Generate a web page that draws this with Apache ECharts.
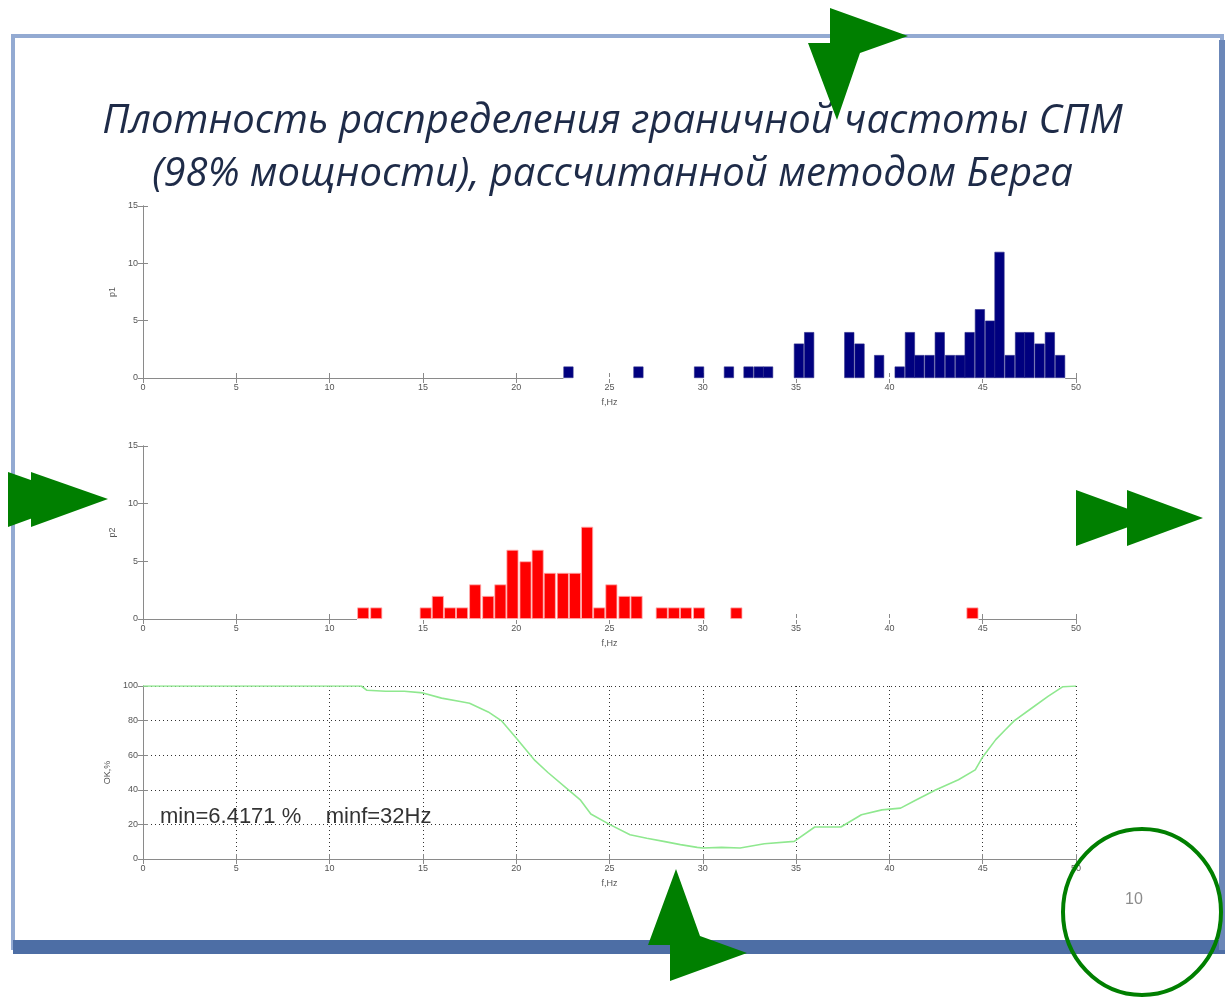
<!DOCTYPE html>
<html>
<head>
<meta charset="utf-8">
<script src="https://cdn.jsdelivr.net/npm/echarts@6/dist/echarts.min.js"></script>
<style>
  html, body { margin: 0; padding: 0; background: #fff; }
  #chart { width: 1225px; height: 999px; }
</style>
</head>
<body>
<div id="chart"></div>
<script>
// p1: центры интервалов (Гц) и число попаданий
const freqP1 = [22.8, 26.55, 29.8, 31.4, 32.45, 33.0, 33.5, 35.15, 35.7, 37.85, 38.4, 39.45, 40.55,
  41.1, 41.6, 42.15, 42.7, 43.25, 43.8, 44.3, 44.85, 45.4, 45.9, 46.45, 47.0, 47.5, 48.05, 48.6, 49.15]
const countP1 = [1, 1, 1, 1, 1, 1, 1, 3, 4, 4, 3, 2, 1,
  4, 2, 2, 4, 2, 2, 4, 6, 5, 11, 2, 4, 4, 3, 4, 2]
const binP1 = 0.537

// p2
const freqP2 = [11.8, 12.5, 15.15, 15.8, 16.45, 17.1, 17.8, 18.5, 19.15, 19.8, 20.5, 21.15, 21.8,
  22.5, 23.15, 23.8, 24.45, 25.1, 25.8, 26.45, 27.8, 28.45, 29.1, 29.8, 31.8, 44.45]
const countP2 = [1, 1, 1, 2, 1, 1, 3, 2, 3, 6, 5, 6, 4,
  4, 4, 8, 1, 3, 2, 2, 1, 1, 1, 1, 1, 1]
const binP2 = 0.665

// ОК, %
const freqOK = [0, 11.7, 12, 13, 14, 15, 16, 17, 17.5, 18.5, 19.2, 20, 21, 21.7, 22.8, 23.45, 24, 25,
  26.1, 27, 27.9, 28.8, 29.7, 30, 31, 32, 33.3, 34.9, 36, 37.4, 38.5, 39.6, 40.6, 41.4, 42.5,
  43.7, 44.6, 45, 45.7, 46.2, 46.7, 47.6, 48.5, 49.3, 50]
const valueOK = [100, 100, 97.5, 97, 97, 96, 93, 91, 90, 85, 80, 70, 57, 50, 40, 34, 26, 20,
  14, 12, 10.2, 8.3, 6.7, 6.4, 6.7, 6.4, 8.8, 10.2, 18.5, 18.5, 25.6, 28.4, 29.4, 34, 40,
  45.8, 51.5, 59, 69, 74.6, 80, 87, 94, 99.6, 100]

const xTicks = [0, 50, 5]
const pTicks = [0, 15, 5]
const okTicks = [0, 100, 20]

const titleText = 'Плотность распределения граничной частоты СПМ\n(98% мощности), рассчитанной методом Берга'
const noteText = 'min=6.4171 %    minf=32Hz'
const pageNo = '10'

const chart = echarts.init(document.getElementById('chart'))

const boxColor = '#8a8a8a'
const lblStyle = { fontSize: 9, color: '#555', fontFamily: 'Liberation Sans' }

// сетки трёх графиков
const grids = [
  { left: 143, top: 206, width: 933, height: 172 },
  { left: 143, top: 446, width: 933, height: 173 },
  { left: 143, top: 686, width: 933, height: 173 }
]

function xAxes(gi, dotted) {
  const base = {
    gridIndex: gi, type: 'value', min: xTicks[0], max: xTicks[1], interval: xTicks[2],
    axisLine: { show: true, lineStyle: { color: boxColor } },
    axisTick: { show: true, inside: true, length: 5, lineStyle: { color: boxColor } },
    splitLine: { show: false }
  }
  return [
    Object.assign({}, base, {
      position: 'bottom',
      axisLabel: Object.assign({ margin: 5 }, lblStyle),
      name: 'f,Hz', nameLocation: 'middle', nameGap: 20,
      nameTextStyle: Object.assign({}, lblStyle),
      splitLine: dotted ? { show: true, lineStyle: { color: '#333', type: [1, 3], width: 1 } } : { show: false }
    }),
    Object.assign({}, base, { position: 'top', axisLabel: { show: false } })
  ]
}

function yAxes(gi, ticks, name, gap, dotted) {
  const base = {
    gridIndex: gi, type: 'value', min: ticks[0], max: ticks[1], interval: ticks[2],
    axisLine: { show: true, lineStyle: { color: boxColor } },
    axisTick: { show: true, inside: true, length: 5, lineStyle: { color: boxColor } },
    splitLine: { show: false }
  }
  return [
    Object.assign({}, base, {
      position: 'left',
      axisLabel: Object.assign({ margin: 5 }, lblStyle),
      name: name, nameLocation: 'middle', nameGap: gap, nameRotate: 90,
      nameTextStyle: Object.assign({}, lblStyle),
      splitLine: dotted ? { show: true, lineStyle: { color: '#333', type: [1, 3], width: 1 } } : { show: false }
    }),
    Object.assign({}, base, { position: 'right', axisLabel: { show: false } })
  ]
}

const pairs = (xs, ys) => xs.map((x, i) => [x, ys[i]])
// пустые интервалы гистограммы закрывают нижнюю ось (как в MATLAB)
const binSpan = (xs, w) => [[Math.min(...xs) - w / 2, 0], [Math.max(...xs) + w / 2, 0]]

const greenFill = '#007f00'

const option = {
  backgroundColor: '#ffffff',
  animation: false,
  title: {
    text: titleText,
    left: 'center',
    top: 90,
    textStyle: {
      fontFamily: 'Open Sans', fontStyle: 'italic', fontWeight: 'normal',
      fontSize: 40, lineHeight: 53, color: '#1e2b48'
    }
  },
  grid: grids,
  xAxis: [].concat(xAxes(0, false), xAxes(1, false), xAxes(2, true)),
  yAxis: [].concat(yAxes(0, pTicks, 'p1', 19, false), yAxes(1, pTicks, 'p2', 19, false),
    yAxes(2, okTicks, 'OK,%', 27, true)),
  series: [
    {
      type: 'line', xAxisIndex: 0, yAxisIndex: 0, z: 1, data: binSpan(freqP1, binP1),
      symbol: 'none', lineStyle: { color: '#ffffff', width: 2 }, silent: true
    },
    {
      type: 'bar', xAxisIndex: 0, yAxisIndex: 0,
      data: pairs(freqP1, countP1), barWidth: 10,
      itemStyle: { color: '#00007f', borderColor: '#2a2a8a', borderWidth: 0.6 }
    },
    {
      type: 'line', xAxisIndex: 2, yAxisIndex: 2, z: 1, data: binSpan(freqP2, binP2),
      symbol: 'none', lineStyle: { color: '#ffffff', width: 2 }, silent: true
    },
    {
      type: 'bar', xAxisIndex: 2, yAxisIndex: 2,
      data: pairs(freqP2, countP2), barWidth: 12,
      itemStyle: { color: '#ff0000', borderColor: '#ffb0b0', borderWidth: 0.8 }
    },
    {
      type: 'line', xAxisIndex: 4, yAxisIndex: 4, z: 5,
      data: pairs(freqOK, valueOK), showSymbol: false, symbol: 'none',
      lineStyle: { color: '#8fe88f', width: 1.6 }
    }
  ],
  graphic: [
    // рамка слайда
    { type: 'rect', z: -10, shape: { x: 13, y: 36, width: 1209, height: 912 },
      style: { fill: '#ffffff', stroke: '#93aad2', lineWidth: 4 } },
    { type: 'rect', z: -9, shape: { x: 13, y: 940, width: 1212, height: 14 },
      style: { fill: '#4d6ea5' } },
    { type: 'rect', z: -9, shape: { x: 1219, y: 40, width: 6, height: 910 },
      style: { fill: '#6b87b8' } },
    // подпись минимума
    { type: 'text', z: 20, left: 160, top: 806,
      style: { text: noteText, fill: '#333', font: '22px "Liberation Sans"' } },
    // номер страницы
    { type: 'text', z: 20, left: 1125, top: 892,
      style: { text: pageNo, fill: '#8c8c8c', font: '16px "Liberation Sans"' } },
    // зелёные стрелки
    { type: 'polygon', z: 30, shape: { points: [[830, 8], [908, 36], [860, 53], [837, 120], [808, 43], [830, 43]] },
      style: { fill: greenFill } },
    { type: 'polygon', z: 30, shape: { points: [[8, 472], [85, 499], [8, 527]] }, style: { fill: greenFill } },
    { type: 'polygon', z: 31, shape: { points: [[31, 472], [108, 499], [31, 527]] }, style: { fill: greenFill } },
    { type: 'polygon', z: 30, shape: { points: [[1076, 490], [1153, 518], [1076, 546]] }, style: { fill: greenFill } },
    { type: 'polygon', z: 31, shape: { points: [[1127, 490], [1203, 518], [1127, 546]] }, style: { fill: greenFill } },
    { type: 'polygon', z: 30, shape: { points: [[676, 869], [700, 936], [747, 953], [670, 981], [670, 945], [648, 945]] },
      style: { fill: greenFill } },
    { type: 'ellipse', z: 30, shape: { cx: 1142, cy: 912, rx: 79, ry: 83 },
      style: { fill: 'none', stroke: greenFill, lineWidth: 4 } }
  ]
}

chart.setOption(option)
</script>
</body>
</html>
